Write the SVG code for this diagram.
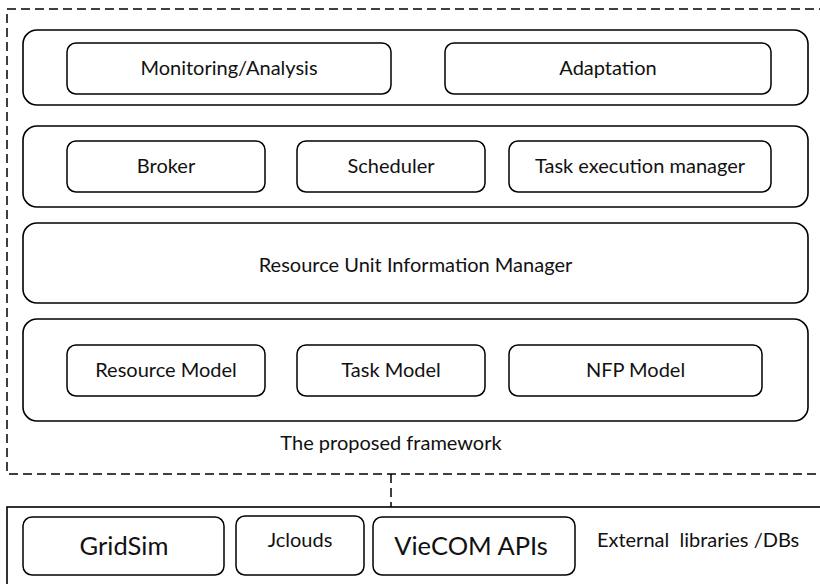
<svg xmlns="http://www.w3.org/2000/svg" width="820" height="584" viewBox="0 0 820 584">
<style>
.layer{fill:#fff;stroke:#000;stroke-width:1.6}
.box{fill:#fff;stroke:#000;stroke-width:1.5}
.dash{fill:none;stroke:#000;stroke-width:1.5;stroke-dasharray:9,5}
.solid{fill:#fff;stroke:#000;stroke-width:1.6}
text{font-family:Lato,"Open Sans",sans-serif;font-size:20px;fill:#111;text-anchor:middle;white-space:pre}
.big{font-size:25.5px}
</style>
<rect width="820" height="584" fill="#fff"/>
<g id="framework">
<rect class="dash" x="7" y="9" width="830" height="465"/>
<text x="391" y="450">The proposed framework</text>
</g>
<g id="connectors">
<line class="dash" x1="391" y1="474" x2="391" y2="507"/>
</g>
<g id="externals">
<rect class="solid" x="7" y="507" width="830" height="100"/>
<text x="698" y="547" xml:space="preserve">External  libraries /DBs</text>
</g>
<g id="layer-adaptation">
<rect class="layer" x="23" y="30" width="785" height="75" rx="14"/>
</g>
<g id="monitoring">
<rect class="box" x="67" y="43" width="324" height="51" rx="9"/>
<text x="229" y="75">Monitoring/Analysis</text>
</g>
<g id="adaptation">
<rect class="box" x="445" y="43" width="326" height="51" rx="9"/>
<text x="608" y="75">Adaptation</text>
</g>
<g id="layer-execution">
<rect class="layer" x="23" y="126" width="785" height="81" rx="14"/>
</g>
<g id="broker">
<rect class="box" x="67" y="141" width="198" height="51" rx="9"/>
<text x="166" y="173">Broker</text>
</g>
<g id="scheduler">
<rect class="box" x="297" y="141" width="188" height="51" rx="9"/>
<text x="391" y="173">Scheduler</text>
</g>
<g id="task-execution-manager">
<rect class="box" x="509" y="141" width="262" height="51" rx="9"/>
<text x="640" y="173">Task execution manager</text>
</g>
<g id="resource-unit-information-manager">
<rect class="layer" x="23" y="223" width="785" height="80" rx="14"/>
<text x="415.5" y="272">Resource Unit Information Manager</text>
</g>
<g id="layer-models">
<rect class="layer" x="23" y="319" width="785" height="102" rx="14"/>
</g>
<g id="resource-model">
<rect class="box" x="67" y="345" width="198" height="51" rx="9"/>
<text x="166" y="377">Resource Model</text>
</g>
<g id="task-model">
<rect class="box" x="297" y="345" width="188" height="51" rx="9"/>
<text x="391" y="377">Task Model</text>
</g>
<g id="nfp-model">
<rect class="box" x="509" y="345" width="253" height="51" rx="9"/>
<text x="635.5" y="377">NFP Model</text>
</g>
<g id="gridsim">
<rect class="box" x="23" y="517" width="201" height="58" rx="9"/>
<text class="big" x="124" y="555">GridSim</text>
</g>
<g id="jclouds">
<rect class="box" x="236" y="516" width="128" height="59" rx="9"/>
<text x="300" y="547">Jclouds</text>
</g>
<g id="viecom-apis">
<rect class="box" x="373" y="517" width="202" height="58" rx="9"/>
<text class="big" x="471" y="555">VieCOM APIs</text>
</g>
</svg>
